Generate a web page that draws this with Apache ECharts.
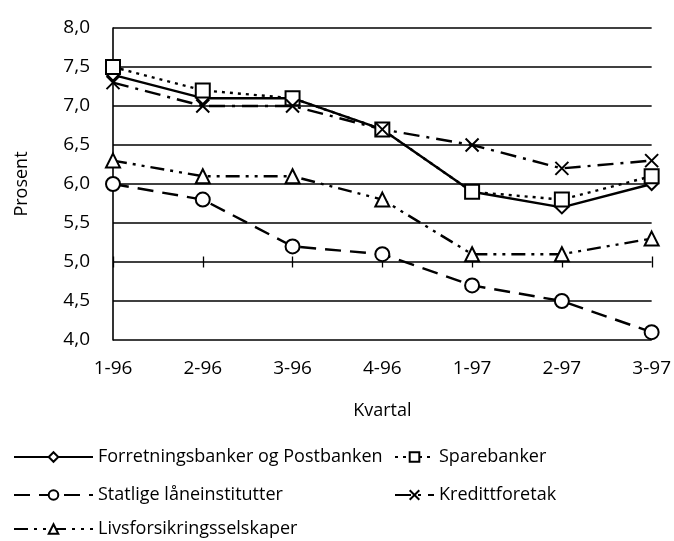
<!DOCTYPE html>
<html><head><meta charset="utf-8">
<script src="https://cdn.jsdelivr.net/npm/echarts@6/dist/echarts.min.js"></script>
<style>html,body{margin:0;padding:0;background:#fff}#c{width:674px;height:541px}</style>
</head><body><div id="c"></div>
<script>
var categories = ['1-96','2-96','3-96','4-96','1-97','2-97','3-97'];
var forretning = [7.4, 7.1, 7.1, 6.7, 5.9, 5.7, 6.0];
var sparebanker = [7.5, 7.2, 7.1, 6.7, 5.9, 5.8, 6.1];
var statlige = [6.0, 5.8, 5.2, 5.1, 4.7, 4.5, 4.1];
var kreditt = [7.3, 7.0, 7.0, 6.7, 6.5, 6.2, 6.3];
var livs = [6.3, 6.1, 6.1, 5.8, 5.1, 5.1, 5.3];
var names = ['Forretningsbanker og Postbanken','Sparebanker','Statlige låneinstitutter','Kredittforetak','Livsforsikringsselskaper'];

var FONT = 'Open Sans';
var chart = echarts.init(document.getElementById('c'));
function mk(name, data, symbol, size, lineType) {
  return {
    name: name, type: 'line', data: data, xAxisIndex: 0, yAxisIndex: 0,
    symbol: symbol, symbolSize: size, showAllSymbol: true,
    lineStyle: { color: '#000', width: 2.4, type: lineType },
    itemStyle: { color: '#fff', borderColor: '#000', borderWidth: 2 },
    emphasis: { disabled: true }, animation: false
  };
}
function lg(name, left, top, w) {
  return { left: left, top: top, orient: 'horizontal', itemWidth: w, itemHeight: 12,
    data: [name], selectedMode: false,
    textStyle: { fontSize: 18, color: '#000', fontFamily: FONT } };
}
var xPath = 'path://M0,0L10,10M10,0L0,10';
var option = {
  backgroundColor: '#fff',
  animation: false,
  textStyle: { fontFamily: FONT, color: '#000' },
  grid: [
    { left: 113, right: 22, top: 28, bottom: 201 },
    { left: 113, right: 22, top: 256.5, height: 11 }
  ],
  xAxis: [
    { gridIndex: 0, type: 'category', data: categories, boundaryGap: false,
      axisLine: { show: false }, axisTick: { show: false },
      axisLabel: { fontSize: 19, color: '#000', margin: 19, fontFamily: FONT },
      name: 'Kvartal', nameLocation: 'middle', nameGap: 62,
      nameTextStyle: { fontSize: 18, color: '#000', fontFamily: FONT },
      splitLine: { show: false } },
    { gridIndex: 1, type: 'category', data: categories, boundaryGap: false,
      axisLine: { show: false }, axisTick: { show: false }, axisLabel: { show: false },
      splitLine: { show: true, lineStyle: { color: '#000', width: 1.3 } } }
  ],
  yAxis: [
    { gridIndex: 0, type: 'value', min: 4, max: 8, interval: 0.5,
      axisLine: { show: true, lineStyle: { color: '#000', width: 1.6 } },
      axisTick: { show: false },
      axisLabel: { fontSize: 19, color: '#000', margin: 23, fontFamily: FONT,
        formatter: function (v) { return v.toFixed(1).replace('.', ','); } },
      splitLine: { show: true, lineStyle: { color: '#000', width: 1.6 } },
      name: 'Prosent', nameLocation: 'middle', nameGap: 82, nameRotate: 90,
      nameTextStyle: { fontSize: 18, color: '#000', fontFamily: FONT } },
    { gridIndex: 1, type: 'value', show: false }
  ],
  legend: [
    lg(names[0], 8, 443, 79),
    lg(names[2], 8, 481, 79),
    lg(names[4], 8, 515, 79),
    lg(names[1], 389, 443, 39),
    lg(names[3], 389, 481, 39)
  ],
  series: [
    mk(names[0], forretning, 'diamond', 12, 'solid'),
    mk(names[1], sparebanker, 'rect', 14, [3, 5]),
    mk(names[2], statlige, 'circle', 14, [16, 9]),
    mk(names[3], kreditt, xPath, 13, [16, 7, 3, 7]),
    mk(names[4], livs, 'triangle', 14, [14, 6, 3, 6, 3, 6])
  ]
};
chart.setOption(option);
</script></body></html>
